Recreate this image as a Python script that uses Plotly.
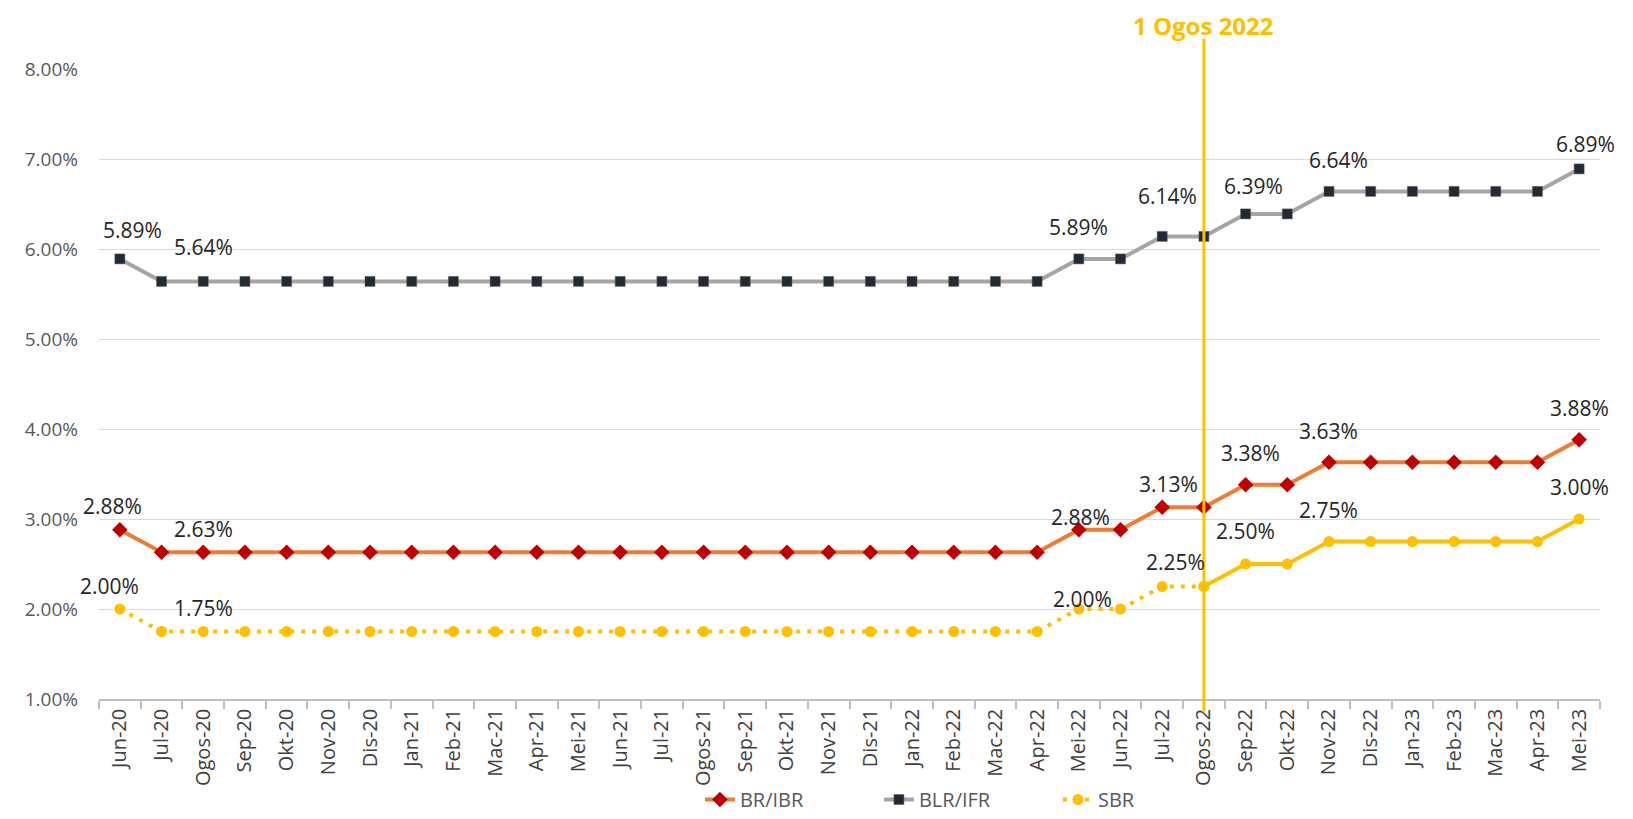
import plotly.graph_objects as go

categories = ["Jun-20", "Jul-20", "Ogos-20", "Sep-20", "Okt-20", "Nov-20", "Dis-20",
              "Jan-21", "Feb-21", "Mac-21", "Apr-21", "Mei-21", "Jun-21", "Jul-21",
              "Ogos-21", "Sep-21", "Okt-21", "Nov-21", "Dis-21", "Jan-22", "Feb-22",
              "Mac-22", "Apr-22", "Mei-22", "Jun-22", "Jul-22", "Ogos-22", "Sep-22",
              "Okt-22", "Nov-22", "Dis-22", "Jan-23", "Feb-23", "Mac-23", "Apr-23", "Mei-23"]

br_ibr = [2.88, 2.63, 2.63, 2.63, 2.63, 2.63, 2.63, 2.63, 2.63, 2.63, 2.63, 2.63,
          2.63, 2.63, 2.63, 2.63, 2.63, 2.63, 2.63, 2.63, 2.63, 2.63, 2.63,
          2.88, 2.88, 3.13, 3.13, 3.38, 3.38, 3.63, 3.63, 3.63, 3.63, 3.63, 3.63, 3.88]
blr_ifr = [5.89, 5.64, 5.64, 5.64, 5.64, 5.64, 5.64, 5.64, 5.64, 5.64, 5.64, 5.64,
           5.64, 5.64, 5.64, 5.64, 5.64, 5.64, 5.64, 5.64, 5.64, 5.64, 5.64,
           5.89, 5.89, 6.14, 6.14, 6.39, 6.39, 6.64, 6.64, 6.64, 6.64, 6.64, 6.64, 6.89]
sbr = [2.00, 1.75, 1.75, 1.75, 1.75, 1.75, 1.75, 1.75, 1.75, 1.75, 1.75, 1.75,
       1.75, 1.75, 1.75, 1.75, 1.75, 1.75, 1.75, 1.75, 1.75, 1.75, 1.75,
       2.00, 2.00, 2.25, 2.25, 2.50, 2.50, 2.75, 2.75, 2.75, 2.75, 2.75, 2.75, 3.00]

event_category = "Ogos-22"
event_label = "1 Ogos 2022"

# indices of points carrying a data label
label_idx = [0, 1, 23, 25, 27, 29, 35]
# label offsets (px) per series: (xshift, yshift)
blr_shift = [(13, 29), (42, 34), (0, 32), (5, 40), (8, 28), (10, 31), (6, 25)]
br_shift = [(-7, 24), (42, 23), (2, 13), (6, 23), (5, 32), (0, 31), (0, 32)]
sbr_shift = [(-10, 23), (42, 24), (4, 10), (13, 25), (0, 33), (0, 32), (0, 32)]

ev = categories.index(event_category)

FONT = "Open Sans"
fig = go.Figure()

fig.add_trace(go.Scatter(
    x=categories, y=br_ibr, name="BR/IBR", mode="lines+markers",
    line=dict(color="#ED7D31", width=4),
    marker=dict(symbol="diamond", size=12, color="#C00000"),
))
fig.add_trace(go.Scatter(
    x=categories, y=blr_ifr, name="BLR/IFR", mode="lines+markers",
    line=dict(color="#A5A5A5", width=4),
    marker=dict(symbol="square", size=10, color="#222A35",
                line=dict(color="#5a5a5a", width=0.5)),
))
fig.add_trace(go.Scatter(
    x=categories[:ev + 1], y=sbr[:ev + 1], name="SBR", mode="lines+markers",
    line=dict(color="#FFC000", width=4, dash="4px,7px"),
    marker=dict(symbol="circle", size=11, color="#FFC000"),
))
fig.add_trace(go.Scatter(
    x=categories[ev:], y=sbr[ev:], name="SBR", mode="lines+markers", showlegend=False,
    line=dict(color="#FFC000", width=4),
    marker=dict(symbol="circle", size=11, color="#FFC000"),
))

annotations = []
for series, shifts in ((blr_ifr, blr_shift), (br_ibr, br_shift), (sbr, sbr_shift)):
    for i, (dx, dy) in zip(label_idx, shifts):
        annotations.append(dict(
            x=i, y=series[i], xref="x", yref="y", text=f"{series[i]:.2f}%",
            showarrow=False, xshift=dx, yshift=dy, xanchor="center", yanchor="middle",
            font=dict(family=FONT, size=21, color="#262626"),
        ))

annotations.append(dict(
    x=ev, y=1.0698, xref="x", yref="paper", text=f"<b>{event_label}</b>",
    showarrow=False, xanchor="center", yanchor="middle",
    font=dict(family=FONT, size=24, color="#FFC000"),
))

fig.add_shape(type="line", xref="x", yref="paper", x0=ev, x1=ev, y0=-0.02, y1=1.048,
              line=dict(color="#FFC000", width=3))

fig.update_layout(
    width=1625, height=811,
    margin=dict(l=91, r=33, t=61, b=120, autoexpand=False),
    paper_bgcolor="white", plot_bgcolor="white",
    annotations=annotations,
    showlegend=True,
    legend=dict(orientation="h", xref="container", yref="container",
                x=0.4258, y=0.0, xanchor="left", yanchor="bottom",
                entrywidth=134, entrywidthmode="pixels",
                font=dict(family=FONT, size=20, color="#595959"),
                bgcolor="rgba(0,0,0,0)"),
    font=dict(family=FONT),
)
fig.update_xaxes(
    type="category", range=[-0.5, len(categories) - 0.5],
    showgrid=False, showline=True, linecolor="#BFBFBF", linewidth=1.5,
    ticks="outside", tickson="boundaries", ticklen=8, tickcolor="#BFBFBF", tickwidth=1.5,
    tickangle=-90, tickfont=dict(family=FONT, size=20, color="#404040"),
)
fig.update_yaxes(
    range=[1, 8], dtick=1, tickformat=".2f", ticksuffix="%",
    showgrid=True, gridcolor="#D9D9D9", gridwidth=1.2, zeroline=False, showline=False,
    ticks="", ticklabelstandoff=20,
    tickfont=dict(family=FONT, size=19, color="#595959"),
)

fig.write_html("out.html")
